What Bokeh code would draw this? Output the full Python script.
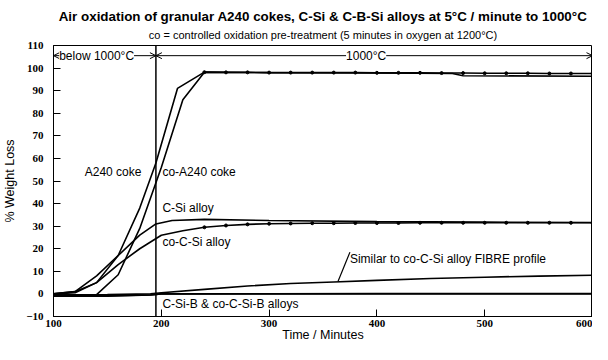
from bokeh.plotting import figure
from bokeh.models import Title, Span, Arrow, OpenHead, Label, ColumnDataSource, FixedTicker, Range1d
from bokeh.core.properties import value
from bokeh.embed import file_html
from bokeh.resources import INLINE

# ---------------- data ----------------
a240_x = [100, 120, 140, 160, 180, 195, 215, 240, 300, 400, 470, 480, 600]
a240_y = [0, 0.5, 5, 17, 38, 58, 91, 98.2, 98.0, 97.8, 97.6, 96.6, 96.4]

co_a240_x = [100, 120, 140, 160, 180, 200, 220, 240, 260, 280, 300, 320, 340, 360, 380,
             400, 420, 440, 460, 480, 500, 520, 540, 560, 580, 600]
co_a240_y = [-0.5, -0.5, -0.3, 8.5, 29, 56, 86, 98.2, 98.1, 98.1, 98.0, 98.0, 98.0, 98.0, 98.0,
             97.9, 97.9, 97.9, 97.8, 97.8, 97.7, 97.7, 97.7, 97.6, 97.6, 97.6]

csi_x = [100, 120, 140, 160, 180, 195, 210, 240, 300, 400, 500, 600]
csi_y = [0, 1, 8, 17, 26, 31, 32.5, 33, 32.5, 32, 31.8, 31.6]

co_csi_x = [100, 120, 140, 160, 180, 200, 220, 240, 260, 280, 300, 320, 340, 360, 380,
            400, 420, 440, 460, 480, 500, 520, 540, 560, 580, 600]
co_csi_y = [0, 1, 5, 13, 20, 26, 28, 29.5, 30.3, 30.8, 31.1, 31.2, 31.3, 31.3, 31.4,
            31.4, 31.4, 31.5, 31.5, 31.5, 31.5, 31.5, 31.5, 31.5, 31.5, 31.5]

fibre_x = [100, 150, 190, 200, 240, 280, 320, 360, 400, 450, 500, 550, 600]
fibre_y = [-0.5, -0.3, 0, 0.5, 2, 3.5, 4.6, 5.3, 6, 6.8, 7.4, 7.9, 8.3]

csib_x = [100, 150, 190, 200, 300, 400, 500, 600]
csib_y = [-1, -1, -0.5, 0, 0.1, 0.2, 0.2, 0.2]

co_csib_x = [100, 150, 190, 200, 300, 600]
co_csib_y = [-0.5, -0.8, -0.5, 0, 0, 0]

x_ticks = [100, 200, 300, 400, 500, 600]
y_ticks = [-10, 0, 10, 20, 30, 40, 50, 60, 70, 80, 90, 100, 110]

heat_switch = 195          # minutes at which 1000 C is reached
band_y = 105.5             # height of the temperature arrows

label_text = ["A240 coke", "co-A240 coke", "C-Si alloy", "co-C-Si alloy",
              "C-Si-B & co-C-Si-B alloys", "Similar to co-C-Si alloy FIBRE profile"]
label_x = [129, 201, 201, 201, 201, 375]
label_y = [54, 54, 38, 23, -4.5, 15.6]

leader_x = [364, 375]
leader_y = [5.6, 18.5]

TITLE = "Air oxidation of granular A240 cokes, C-Si & C-B-Si alloys at 5\u00b0C / minute to 1000\u00b0C"
SUBTITLE = "co = controlled oxidation pre-treatment (5 minutes in oxygen at 1200\u00b0C)"

# ---------------- figure ----------------
SANS = "Liberation Sans"
SERIF = "Liberation Serif"

p = figure(width=592, height=344, output_backend="svg", toolbar_location=None,
           x_range=Range1d(100, 600), y_range=Range1d(-10, 110),
           min_border_left=40, min_border_right=0, min_border_top=40, min_border_bottom=26,
           title=None)

p.add_layout(Title(text=SUBTITLE, align="center", text_font=SANS, text_font_size="11px",
                   text_font_style="normal", standoff=9, text_color="black"), "above")
p.add_layout(Title(text=TITLE, align="center", text_font=SANS, text_font_size="13.4px",
                   text_font_style="bold", standoff=-3, offset=-8, text_color="black"), "above")
p.add_layout(Title(text=" ", align="center", text_font=SANS, text_font_size="5px",
                   standoff=0, text_color="white"), "above")

p.grid.visible = False
p.outline_line_color = "black"
p.outline_line_width = 1
p.background_fill_color = "white"
p.border_fill_color = "white"

for ax in (p.xaxis[0], p.yaxis[0]):
    ax.major_tick_in = 7
    ax.major_tick_out = 0
    ax.minor_tick_line_color = None
    ax.major_label_text_font = SERIF
    ax.major_label_text_font_style = "bold"
    ax.major_label_text_font_size = "11px"
    ax.major_label_text_color = "black"
    ax.axis_label_text_font = SANS
    ax.axis_label_text_font_style = "normal"
    ax.axis_label_text_font_size = "12.5px"
    ax.axis_label_text_color = "black"
    ax.axis_line_color = "black"
    ax.major_tick_line_color = "black"

p.xaxis[0].ticker = FixedTicker(ticks=x_ticks)
p.yaxis[0].ticker = FixedTicker(ticks=y_ticks)
p.xaxis[0].axis_label = "Time / Minutes"
p.yaxis[0].axis_label = "% Weight Loss"
p.xaxis[0].major_label_standoff = 3
p.xaxis[0].axis_label_standoff = -2
p.yaxis[0].major_label_standoff = 10
p.yaxis[0].axis_label_standoff = 6

LW = 1.6
p.line(a240_x, a240_y, line_color="black", line_width=LW)
p.line(co_a240_x, co_a240_y, line_color="black", line_width=LW)
p.scatter(co_a240_x[7:], co_a240_y[7:], size=3, color="black")
p.line(csi_x, csi_y, line_color="black", line_width=LW)
p.line(co_csi_x, co_csi_y, line_color="black", line_width=LW)
p.scatter(co_csi_x[7:], co_csi_y[7:], size=3, color="black")
p.line(fibre_x, fibre_y, line_color="black", line_width=LW)
p.line(csib_x, csib_y, line_color="black", line_width=LW)
p.line(co_csib_x, co_csib_y, line_color="black", line_width=LW)

p.line(leader_x, leader_y, line_color="black", line_width=1.2)

p.add_layout(Span(location=heat_switch, dimension="height", line_color="black", line_width=1.5))

p.add_layout(Arrow(x_start=100, y_start=band_y, x_end=heat_switch, y_end=band_y,
                   start=OpenHead(size=6, line_width=1), end=OpenHead(size=6, line_width=1),
                   line_width=1, line_color="black"))
p.add_layout(Arrow(x_start=heat_switch, y_start=band_y, x_end=600, y_end=band_y,
                   start=OpenHead(size=6, line_width=1), end=OpenHead(size=6, line_width=1),
                   line_width=1, line_color="black"))
p.add_layout(Label(x=140, y=band_y, text="below 1000\u00b0C", text_align="center",
                   text_baseline="middle", text_font=SANS, text_font_size="12px",
                   background_fill_color="white", text_color="black"))
p.add_layout(Label(x=390, y=band_y, text="1000\u00b0C", text_align="center",
                   text_baseline="middle", text_font=SANS, text_font_size="12px",
                   background_fill_color="white", text_color="black"))

src = ColumnDataSource(dict(x=label_x, y=label_y, t=label_text))
p.text(x="x", y="y", text="t", source=src, text_font=value(SANS), text_font_size="12px",
       text_baseline="middle", text_align="left", text_color="black")

open("out.html", "w").write(file_html(p, INLINE))
